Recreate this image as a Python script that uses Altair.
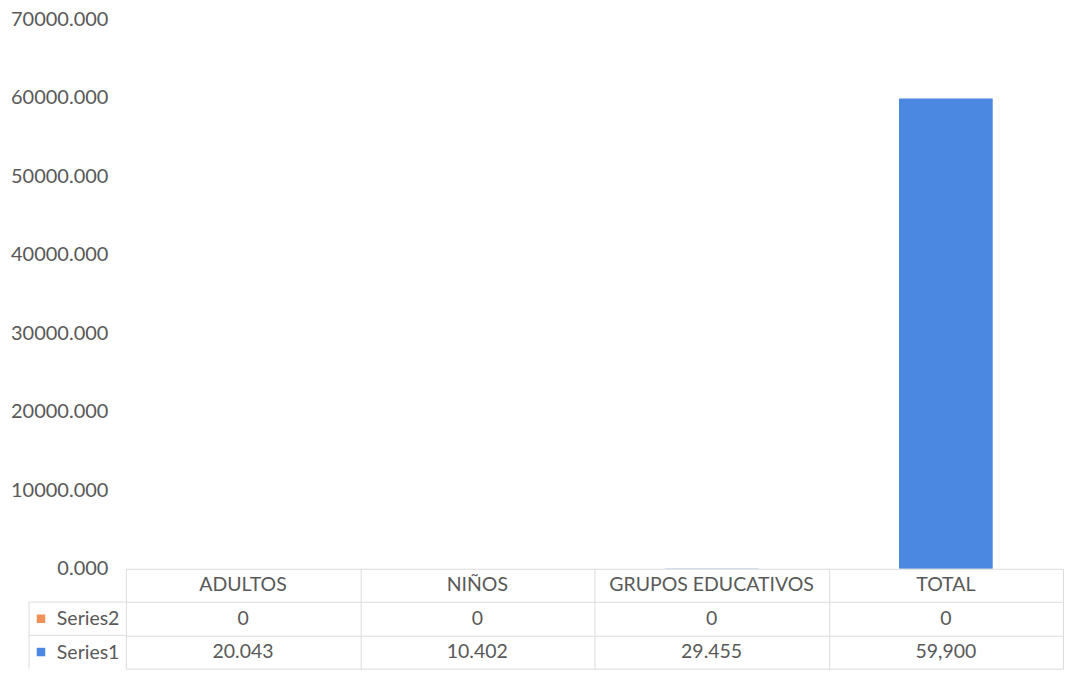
import altair as alt
import pandas as pd

# ---- data ----
categories = ["ADULTOS", "NIÑOS", "GRUPOS EDUCATIVOS", "TOTAL"]
series1_values = [20.043, 10.402, 29.455, 59900]
series2_values = [0, 0, 0, 0]
series1_table_labels = ["20.043", "10.402", "29.455", "59,900"]
series2_table_labels = ["0", "0", "0", "0"]
series_names = ["Series2", "Series1"]
series_colors = ["#f0915a", "#4a88e2"]
y_ticks = [0, 10000, 20000, 30000, 40000, 50000, 60000, 70000]
row_domain = ["header", "Series2", "Series1"]

FONT = "Lato"
TEXT = "#595959"
GRID = "#dcdcdc"
W = 938
LEFT = 117
TOP_H = 550
TAB_H = 100

# ---- tables ----
bar_rows = []
for c, v in zip(categories, series1_values):
    bar_rows.append({"category": c, "series": "Series1", "value": v, "ord": 0})
for c, v in zip(categories, series2_values):
    bar_rows.append({"category": c, "series": "Series2", "value": v, "ord": 1})
bar_df = pd.DataFrame(bar_rows)

tab_rows = []
for c in categories:
    tab_rows.append({"category": c, "row": "header", "label": c})
for c, l in zip(categories, series2_table_labels):
    tab_rows.append({"category": c, "row": "Series2", "label": l})
for c, l in zip(categories, series1_table_labels):
    tab_rows.append({"category": c, "row": "Series1", "label": l})
tab_df = pd.DataFrame(tab_rows)

x_scale = alt.Scale(type="band", domain=categories, paddingInner=0, paddingOuter=0)
y_row_scale = alt.Scale(type="band", domain=row_domain, paddingInner=0, paddingOuter=0)
color_scale = alt.Scale(domain=series_names, range=series_colors)

# ---- top chart ----
bars = alt.Chart(bar_df).mark_bar(width=alt.RelativeBandSize(0.4)).encode(
    x=alt.X("category:N", sort=categories, scale=x_scale, axis=None),
    y=alt.Y(
        "value:Q",
        stack="zero",
        scale=alt.Scale(domain=[0, 70000], nice=False),
        axis=alt.Axis(
            values=y_ticks, format=".3f", title=None, domain=False, ticks=False,
            grid=False, labelPadding=18, labelFont=FONT, labelFontSize=20,
            labelColor=TEXT, minExtent=LEFT, maxExtent=LEFT,
        ),
    ),
    color=alt.Color("series:N", scale=color_scale, legend=None),
    order=alt.Order("ord:Q"),
).properties(width=W, height=TOP_H)

# ---- data table ----
text = alt.Chart(tab_df).mark_text(font=FONT, fontSize=19.5, color=TEXT).encode(
    x=alt.X(
        "category:N", sort=categories, scale=x_scale,
        axis=alt.Axis(title=None, labels=False, ticks=False, domain=False,
                      grid=True, gridColor=GRID, tickBand="extent"),
    ),
    y=alt.Y(
        "row:N", sort=row_domain, scale=y_row_scale,
        axis=alt.Axis(
            title=None, grid=True, gridColor=GRID, tickBand="extent", ticks=False,
            domain=False, labelExpr="datum.value == 'header' ? '' : datum.value",
            labelPadding=7, labelFont=FONT, labelFontSize=19.5, labelColor=TEXT,
            labelAlign="right", minExtent=LEFT, maxExtent=LEFT,
        ),
    ),
    text="label:N",
)

key_df = pd.DataFrame({"row": ["Series2", "Series1"], "series": ["Series2", "Series1"]})

left_rules = alt.Chart(key_df).mark_rule(color=GRID, strokeWidth=1).encode(
    y=alt.Y("row:N", sort=row_domain, scale=y_row_scale, bandPosition=0, title=None),
    x=alt.value(-97),
    x2=alt.value(0),
)

left_border = alt.Chart(key_df.head(1)).mark_rule(color=GRID, strokeWidth=1).encode(
    y=alt.Y("row:N", sort=row_domain, scale=y_row_scale, bandPosition=0, title=None),
    y2=alt.value(TAB_H),
    x=alt.value(-97),
)

keys = alt.Chart(key_df).mark_point(shape="square", filled=True, size=72, opacity=1).encode(
    y=alt.Y("row:N", sort=row_domain, scale=y_row_scale, title=None),
    x=alt.value(-85),
    color=alt.Color("series:N", scale=color_scale, legend=None),
)

table = alt.layer(text, left_rules, left_border, keys).properties(width=W, height=TAB_H)

chart = (
    alt.vconcat(bars, table, spacing=0, bounds="flush")
    .properties(padding=0)
    .configure_view(stroke="transparent")
)

chart.save("out.html", embed_options={"renderer": "svg", "actions": False})
